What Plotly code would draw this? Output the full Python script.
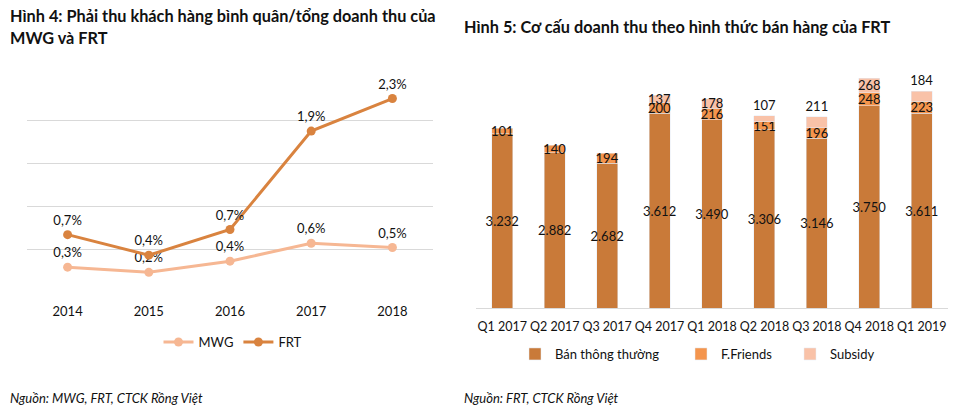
import plotly.graph_objects as go

# ---- Left chart data ----
years = ["2014", "2015", "2016", "2017", "2018"]
mwg = [0.29, 0.23, 0.36, 0.57, 0.52]
frt = [0.67, 0.43, 0.73, 1.88, 2.26]

# ---- Right chart data ----
quarters = ["Q1 2017", "Q2 2017", "Q3 2017", "Q4 2017", "Q1 2018",
            "Q2 2018", "Q3 2018", "Q4 2018", "Q1 2019"]
ban_thong_thuong = [3232, 2882, 2682, 3612, 3490, 3306, 3146, 3750, 3611]
f_friends = [101, 140, 194, 200, 216, 151, 196, 248, 223]
subsidy = [None, None, None, 137, 178, 107, 211, 268, 184]
subsidy_label_pos = ["inside", "inside", "inside", "inside", "inside",
                     "outside", "outside", "inside", "outside"]

FONT = "Lato"
C_MWG = "#F6B793"
C_FRT = "#D9833F"
C_MAIN = "#C97A39"
C_FF = "#F4954D"
C_SUB = "#F9C2A8"

fig = go.Figure()

fig.add_trace(go.Scatter(
    x=years, y=mwg, name="MWG", mode="lines+markers+text",
    line=dict(color=C_MWG, width=3), marker=dict(size=9, color=C_MWG),
    texttemplate="%{y:.1f}%", textposition="top center",
    textfont=dict(size=13, color="#111"),
    xaxis="x", yaxis="y", legend="legend", cliponaxis=False))
fig.add_trace(go.Scatter(
    x=years, y=frt, name="FRT", mode="lines+markers+text",
    line=dict(color=C_FRT, width=3), marker=dict(size=9, color=C_FRT),
    texttemplate="%{y:.1f}%", textposition="top center",
    textfont=dict(size=13, color="#111"),
    xaxis="x", yaxis="y", legend="legend", cliponaxis=False))

common_bar = dict(xaxis="x2", yaxis="y2", width=0.4,
                  textangle=0, constraintext="none", cliponaxis=False,
                  insidetextanchor="middle")
fig.add_trace(go.Bar(
    x=quarters, y=ban_thong_thuong, name="Bán thông thường", legend="legend2",
    marker=dict(color=C_MAIN), texttemplate="%{y:,.0f}",
    textposition="inside", textfont=dict(size=13, color="#111"), **common_bar))
fig.add_trace(go.Bar(
    x=quarters, y=f_friends, name="F.Friends", legend="legend3",
    marker=dict(color=C_FF), texttemplate="%{y:,.0f}",
    textposition="inside", textfont=dict(size=13, color="#111"), **common_bar))
fig.add_trace(go.Bar(
    x=quarters, y=subsidy, name="Subsidy", legend="legend4",
    marker=dict(color=C_SUB), texttemplate="%{y:,.0f}",
    textposition=subsidy_label_pos, textfont=dict(size=13, color="#111"),
    **common_bar))

W, H = 965, 415
def px_x(p):
    return p / W
def px_y(p):
    return 1 - p / H

def bar_legend(left_px):
    return dict(orientation="h", x=px_x(left_px), y=px_y(354), xanchor="left",
                yanchor="middle", font=dict(size=13, color="#111"),
                bgcolor="rgba(0,0,0,0)")

fig.update_layout(
    width=W, height=H, margin=dict(l=0, r=0, t=0, b=0),
    paper_bgcolor="white", plot_bgcolor="white",
    font=dict(family=FONT, size=13, color="#111"),
    separators=",.",
    barmode="stack", bargap=0.6,
    uniformtext=dict(minsize=13, mode="show"),
    xaxis=dict(domain=[px_x(27), px_x(433)], range=[-0.5, 4.5],
               showgrid=False, zeroline=False, showline=False,
               ticks="", ticklabelstandoff=10,
               tickfont=dict(size=13, color="#111")),
    yaxis=dict(domain=[px_y(292), px_y(78)], range=[0, 2.5], dtick=0.5,
               showgrid=True, gridcolor="#D9D9D9", gridwidth=1,
               zeroline=False, showticklabels=False, showline=False,
               anchor="x"),
    xaxis2=dict(domain=[px_x(476), px_x(948)], range=[-0.5, 8.5],
                showgrid=False, zeroline=False, showline=True,
                linecolor="#D9D9D9", linewidth=1, anchor="y2",
                ticks="", tickangle=0, ticklabelstandoff=7,
                tickfont=dict(size=12.5, color="#111")),
    yaxis2=dict(domain=[px_y(308), px_y(65.5)], range=[0, 4500],
                showgrid=False, zeroline=False, showticklabels=False,
                showline=False, anchor="x2"),
    legend=dict(orientation="h", x=px_x(233), y=px_y(342), xanchor="center",
                yanchor="middle", font=dict(size=13, color="#111"),
                bgcolor="rgba(0,0,0,0)"),
    legend2=bar_legend(515),
    legend3=bar_legend(681),
    legend4=bar_legend(790),
    annotations=[
        dict(text="<b>Hình 4: Phải thu khách hàng bình quân/tổng doanh thu của</b>",
             x=px_x(8), y=px_y(15), xref="paper", yref="paper",
             xanchor="left", yanchor="middle", showarrow=False,
             font=dict(size=16.3, color="#111")),
        dict(text="<b>MWG và FRT</b>",
             x=px_x(8), y=px_y(38), xref="paper", yref="paper",
             xanchor="left", yanchor="middle", showarrow=False,
             font=dict(size=16.3, color="#111")),
        dict(text="<b>Hình 5: Cơ cấu doanh thu theo hình thức bán hàng của FRT</b>",
             x=px_x(462), y=px_y(26), xref="paper", yref="paper",
             xanchor="left", yanchor="middle", showarrow=False,
             font=dict(size=16.3, color="#111")),
        dict(text="<i>Nguồn: MWG, FRT, CTCK Rồng Việt</i>",
             x=px_x(8), y=px_y(398), xref="paper", yref="paper",
             xanchor="left", yanchor="middle", showarrow=False,
             font=dict(size=13, color="#111")),
        dict(text="<i>Nguồn: FRT, CTCK Rồng Việt</i>",
             x=px_x(462), y=px_y(398), xref="paper", yref="paper",
             xanchor="left", yanchor="middle", showarrow=False,
             font=dict(size=13, color="#111")),
    ],
)

fig.write_html("out.html")
